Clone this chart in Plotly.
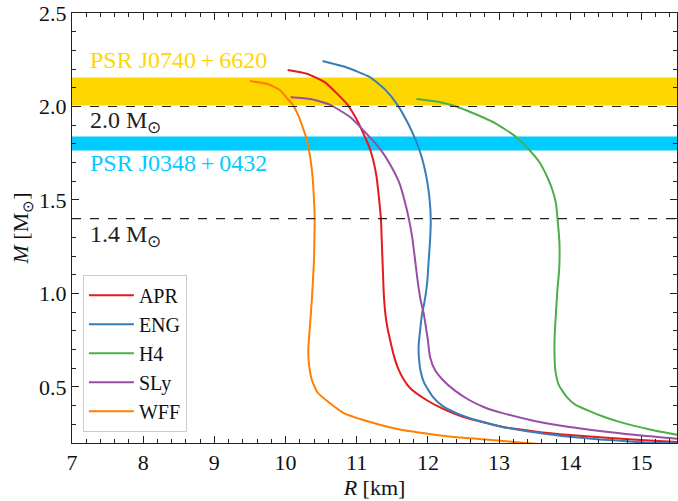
import plotly.graph_objects as go

# ---- data (R in km, M in solar masses) ----
apr_R = [10.03, 10.30, 10.55, 10.72, 10.87, 11.00, 11.10, 11.18, 11.24, 11.28, 11.31, 11.34, 11.355, 11.37, 11.38, 11.40, 11.43, 11.47, 11.52, 11.58, 11.66, 11.76, 11.98, 12.20, 12.49, 13.05, 13.50, 13.99, 14.93, 15.6]
apr_M = [2.195, 2.175, 2.13, 2.07, 2.01, 1.93, 1.85, 1.78, 1.70, 1.62, 1.52, 1.40, 1.25, 1.10, 1.00, 0.90, 0.82, 0.75, 0.67, 0.60, 0.54, 0.49, 0.43, 0.385, 0.34, 0.286, 0.262, 0.243, 0.217, 0.203]

eng_R = [10.52, 10.85, 11.18, 11.40, 11.57, 11.72, 11.84, 11.92, 11.97, 12.01, 12.035, 12.04, 12.03, 12.01, 11.99, 11.95, 11.92, 11.89, 11.87, 11.875, 11.90, 11.95, 12.07, 12.20, 12.40, 12.70, 13.05, 13.50, 13.99, 14.93, 15.6]
eng_M = [2.243, 2.21, 2.158, 2.09, 2.01, 1.91, 1.81, 1.72, 1.64, 1.55, 1.45, 1.38, 1.28, 1.17, 1.056, 0.95, 0.896, 0.80, 0.72, 0.65, 0.58, 0.52, 0.447, 0.40, 0.36, 0.32, 0.286, 0.257, 0.233, 0.206, 0.196]

h4_R = [11.84, 12.16, 12.40, 12.63, 12.95, 13.24, 13.42, 13.57, 13.68, 13.75, 13.80, 13.82, 13.84, 13.85, 13.845, 13.82, 13.80, 13.78, 13.78, 13.79, 13.84, 13.95, 14.07, 14.23, 14.45, 14.69, 15.15, 15.55]
h4_M = [2.04, 2.024, 2.00, 1.965, 1.91, 1.837, 1.77, 1.70, 1.62, 1.553, 1.48, 1.404, 1.32, 1.25, 1.13, 1.02, 0.90, 0.76, 0.66, 0.59, 0.51, 0.447, 0.405, 0.377, 0.343, 0.313, 0.27, 0.241]

sly_R = [10.07, 10.35, 10.62, 10.92, 11.18, 11.34, 11.47, 11.60, 11.67, 11.73, 11.78, 11.82, 11.86, 11.90, 11.94, 11.98, 12.00, 12.03, 12.10, 12.21, 12.38, 12.58, 12.80, 13.05, 13.50, 13.99, 14.93, 15.55]
sly_M = [2.05, 2.04, 2.01, 1.94, 1.837, 1.767, 1.69, 1.59, 1.50, 1.404, 1.30, 1.18, 1.056, 0.96, 0.896, 0.80, 0.75, 0.66, 0.59, 0.537, 0.48, 0.43, 0.39, 0.36, 0.318, 0.286, 0.243, 0.221]

wff_R = [9.50, 9.75, 9.92, 10.03, 10.10, 10.17, 10.24, 10.30, 10.35, 10.38, 10.40, 10.41, 10.405, 10.40, 10.385, 10.37, 10.35, 10.33, 10.32, 10.33, 10.37, 10.45, 10.62, 10.82, 11.08, 11.35, 11.64, 12.00, 12.34, 13.05, 13.38, 13.70]
wff_M = [2.136, 2.12, 2.088, 2.04, 2.01, 1.96, 1.89, 1.82, 1.72, 1.623, 1.50, 1.40, 1.28, 1.18, 1.07, 0.965, 0.86, 0.762, 0.70, 0.62, 0.537, 0.47, 0.414, 0.36, 0.324, 0.295, 0.27, 0.25, 0.233, 0.211, 0.20, 0.19]

names = ["APR", "ENG", "H4", "SLy", "WFF"]
colors = ["#e41a1c", "#377eb8", "#4daf4a", "#984ea3", "#ff7f00"]
series_R = [apr_R, eng_R, h4_R, sly_R, wff_R]
series_M = [apr_M, eng_M, h4_M, sly_M, wff_M]

band_J0740 = (2.005, 2.155)
band_J0348 = (1.765, 1.84)
ref_masses = [2.0, 1.4]

FONT = "Liberation Serif"

fig = go.Figure()
for n, c, R, M in zip(names, colors, series_R, series_M):
    fig.add_trace(go.Scatter(x=R, y=M, mode="lines", name=n,
                             line=dict(color=c, width=2, shape="spline", smoothing=0.5)))

# bands
fig.add_shape(type="rect", xref="paper", x0=0, x1=1, yref="y",
              y0=band_J0740[0], y1=band_J0740[1], fillcolor="#ffd700",
              line_width=0, layer="below")
fig.add_shape(type="rect", xref="paper", x0=0, x1=1, yref="y",
              y0=band_J0348[0], y1=band_J0348[1], fillcolor="#00ccff",
              line_width=0, layer="below")
for m in ref_masses:
    fig.add_shape(type="line", xref="paper", x0=0, x1=1, yref="y", y0=m, y1=m,
                  line=dict(color="#222222", width=1.2, dash="dash"), layer="above")

ann = [
    ("PSR J0740\u2009+\u20096620", 2.25, "#ffd700"),
    ("2.0 M<sub>⊙</sub>", 1.915, "#222222"),
    ("PSR J0348\u2009+\u20090432", 1.698, "#00ccff"),
    ("1.4 M<sub>⊙</sub>", 1.305, "#222222"),
]
for t, yv, c in ann:
    fig.add_annotation(x=7.22, y=yv, xref="x", yref="y", text=t, showarrow=False,
                       xanchor="left", yanchor="middle",
                       font=dict(family=FONT, size=24, color=c))

axis_common = dict(
    showgrid=False, zeroline=False, showline=True, linecolor="#222222", linewidth=1,
    mirror="allticks", ticks="inside", ticklen=7, tickwidth=1, tickcolor="#222222",
    tickfont=dict(family=FONT, size=22, color="#111111"),
)
fig.update_xaxes(range=[7, 15.5], dtick=1, tick0=7,
                 minor=dict(ticks="inside", dtick=0.2, ticklen=4, tickcolor="#222222"),
                 title=dict(text="<i>R</i> [km]", font=dict(family=FONT, size=22, color="#111111"), standoff=0),
                 **axis_common)
fig.update_yaxes(range=[0.2, 2.5], dtick=0.5, tick0=0.5, tickformat=".1f",
                 minor=dict(ticks="inside", dtick=0.1, ticklen=4, tickcolor="#222222"),
                 title=dict(text="<i>M</i> [M<sub>⊙</sub>]", font=dict(family=FONT, size=22, color="#111111"), standoff=4),
                 **axis_common)

fig.update_layout(
    width=678, height=501,
    margin=dict(l=72, r=1, t=13, b=58),
    plot_bgcolor="white", paper_bgcolor="white",
    font=dict(family=FONT, size=20, color="#111111"),
    legend=dict(x=0.018, y=0.026, xanchor="left", yanchor="bottom",
                bgcolor="rgba(255,255,255,0.9)", bordercolor="#cccccc", borderwidth=1,
                font=dict(family=FONT, size=20, color="#111111"),
                itemwidth=45, tracegroupgap=0),
    showlegend=True,
)

fig.write_html("out.html")
